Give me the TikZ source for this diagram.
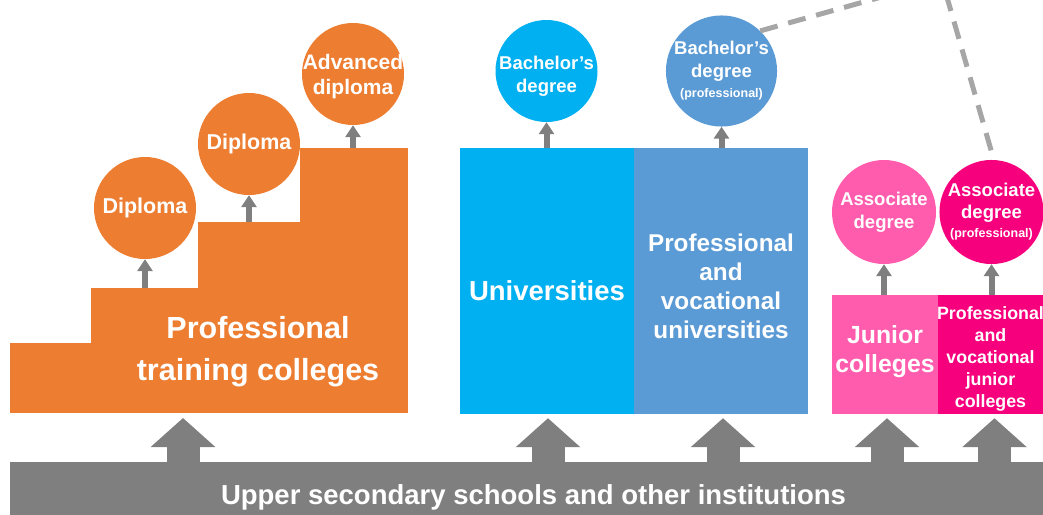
\documentclass[tikz,border=0pt]{standalone}
\usepackage{fontspec}
\setmainfont{Liberation Sans}
\usetikzlibrary{arrows.meta}

\definecolor{ptcorange}{HTML}{ED7D31}
\definecolor{unicyan}{HTML}{00B0F0}
\definecolor{pvublue}{HTML}{5B9BD5}
\definecolor{jcpink}{HTML}{FF5CAD}
\definecolor{pvjmagenta}{HTML}{F7007D}
\definecolor{basegray}{HTML}{7F7F7F}
\definecolor{linkgray}{HTML}{A6A6A6}

\tikzset{
  box/.style={rectangle, inner sep=0pt},
  inlabel/.style={inner sep=0pt, text=white, align=center},
  degree/.style={circle, inner sep=0pt, minimum size=102pt, text=white, align=center,
    font=\bfseries\fontsize{18.5}{23}\selectfont},
  smallarrow/.style={basegray, line width=6pt, -{Triangle[width=15pt,length=12pt]}},
  bigarrow/.style={basegray, line width=33pt, -{Triangle[width=63pt,length=29pt]}},
  link/.style={linkgray, line width=5pt, dash pattern=on 18pt off 11pt}
}

\begin{document}
\begin{tikzpicture}[x=1pt, y=-1pt]
  \useasboundingbox (0,0) rectangle (1043,514);
  \clip (0,0) rectangle (1043,514);

  % Professional training colleges (steps)
  \node[box, fill=ptcorange, minimum width=81pt, minimum height=70pt] (s1) at (50.5,378) {};
  \node[box, fill=ptcorange, minimum width=107pt, minimum height=125pt] (s2) at (144.5,350.5) {};
  \node[box, fill=ptcorange, minimum width=102pt, minimum height=191pt] (s3) at (249,317.5) {};
  \node[box, fill=ptcorange, minimum width=108pt, minimum height=265pt] (s4) at (354,280.5) {};
  \node[inlabel, font=\bfseries\fontsize{30.5}{42}\selectfont] (ptc) at (258,352) {Professional\\training colleges};

  % Universities
  \node[box, fill=unicyan, minimum width=174pt, minimum height=266pt,
    label={[inlabel, yshift=-10pt, font=\bfseries\fontsize{27.5}{30}\selectfont]center:Universities}] (uni) at (547,281) {};
  \node[box, fill=pvublue, minimum width=174pt, minimum height=266pt,
    label={[inlabel, yshift=-5pt, font=\bfseries\fontsize{24.3}{29}\selectfont]center:Professional\\and\\vocational\\universities}] (pvu) at (721,281) {};

  % Junior colleges
  \node[box, fill=jcpink, minimum width=106pt, minimum height=119pt,
    label={[inlabel, yshift=3pt, font=\bfseries\fontsize{24.8}{29}\selectfont]center:Junior\\colleges}] (jc) at (885,354.5) {};
  \node[box, fill=pvjmagenta, minimum width=105pt, minimum height=119pt,
    label={[inlabel, yshift=-4pt, font=\bfseries\fontsize{17.8}{22}\selectfont]center:Professional\\and\\vocational\\junior\\colleges}] (pvj) at (990.5,354.5) {};

  % Degrees
  \node[degree, fill=ptcorange, font=\bfseries\fontsize{21.5}{25}\selectfont] (d1) at (145,208) {Diploma};
  \node[degree, fill=ptcorange, font=\bfseries\fontsize{21.5}{25}\selectfont] (d2) at (249,144) {Diploma};
  \node[degree, fill=ptcorange,
    label={[inlabel, yshift=-3pt, font=\bfseries\fontsize{21}{25}\selectfont]center:Advanced\\diploma}] (adv) at (353,74) {};
  \node[degree, fill=unicyan,
    label={[inlabel, yshift=-5pt, font=\bfseries\fontsize{18.5}{23}\selectfont]center:Bachelor’s\\degree}] (ba) at (546.5,71) {};
  \node[degree, fill=pvublue] (bp) at (721.5,71)
    {Bachelor’s\\degree\\[-3pt]{\fontsize{12.5}{14}\selectfont(professional)}};
  \node[degree, fill=jcpink, minimum size=104pt] (as) at (884,212) {Associate\\degree};
  \node[degree, fill=pvjmagenta, minimum size=104pt] (ap) at (991.5,212)
    {Associate\\[-1pt]degree\\[-4pt]{\fontsize{12.5}{14}\selectfont(professional)}};

  % Upper secondary base
  \node[box, fill=basegray, minimum width=1033pt, minimum height=64pt,
    label={[inlabel, xshift=7pt, yshift=-3pt, font=\bfseries\fontsize{27.5}{30}\selectfont]center:Upper secondary schools and other institutions}] (base) at (526.5,494) {};
  \coordinate (ptcin) at (183,418);

  % small arrows to degrees
  \draw[smallarrow] (d1.south |- s2.north) -- (d1.south);
  \draw[smallarrow] (d2.south |- s3.north) -- (d2.south);
  \draw[smallarrow] (adv.south |- s4.north) -- (adv.south);
  \draw[smallarrow] (ba.south |- uni.north) -- (ba.south);
  \draw[smallarrow] (bp.south |- pvu.north) -- (bp.south);
  \draw[smallarrow] (as.south |- jc.north) -- (as.south);
  \draw[smallarrow] (ap.south |- pvj.north) -- (ap.south);

  % big arrows from the base
  \draw[bigarrow] (ptcin |- base.north) -- (ptcin);
  \draw[bigarrow] ([xshift=1pt]uni.south |- base.north) -- ([xshift=1pt,yshift=-4pt]uni.south);
  \draw[bigarrow] ([xshift=2pt]pvu.south |- base.north) -- ([xshift=2pt,yshift=-4pt]pvu.south);
  \draw[bigarrow] ([xshift=2pt]jc.south |- base.north) -- ([xshift=2pt,yshift=-4pt]jc.south);
  \draw[bigarrow] ([xshift=4pt]pvj.south |- base.north) -- ([xshift=4pt,yshift=-4pt]pvj.south);

  % dashed link between professional degrees
  \coordinate (bend) at (942,-20);
  \draw[link] (bp.46) -- (bend) -- ([yshift=8pt]ap.north);
\end{tikzpicture}
\end{document}
